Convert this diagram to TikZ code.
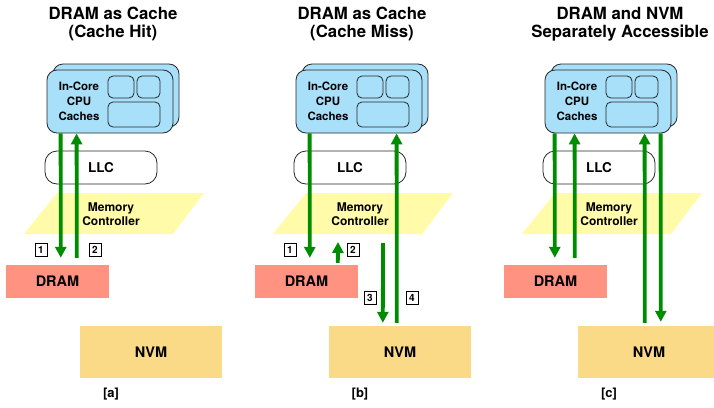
\documentclass[tikz,border=0pt]{standalone}
\usepackage{fontspec}
\setmainfont{TeX Gyre Heros}
\usetikzlibrary{arrows.meta}

\definecolor{cpublue}{RGB}{168,224,250}
\definecolor{mcyellow}{RGB}{255,251,168}
\definecolor{dramred}{RGB}{255,146,128}
\definecolor{nvmyellow}{RGB}{250,218,135}
\definecolor{flowgreen}{RGB}{0,140,0}

\tikzset{
  cpubox/.style={draw=black!85, line width=0.8pt, fill=cpublue, rounded corners=10pt,
    minimum width=126, minimum height=63, inner sep=0},
  cachebox/.style={draw=black!85, line width=0.8pt, fill=cpublue, rounded corners=5pt, inner sep=0},
  cputext/.style={align=center, font=\fontsize{11.5}{15}\selectfont\bfseries},
  llcbox/.style={draw=black!85, line width=0.8pt, fill=white, rounded corners=12pt,
    minimum width=112, minimum height=33, inner sep=0, font=\fontsize{13.5}{15}\selectfont\bfseries},
  mctext/.style={align=center, font=\fontsize{12}{14}\selectfont\bfseries},
  drambox/.style={fill=dramred, minimum width=103, minimum height=33, inner sep=0,
    font=\fontsize{14.5}{16}\selectfont\bfseries},
  nvmbox/.style={fill=nvmyellow, minimum width=142, minimum height=52, inner sep=0,
    font=\fontsize{14.5}{16}\selectfont\bfseries},
  titletext/.style={align=center, font=\fontsize{16.8}{18}\selectfont\bfseries},
  captext/.style={font=\fontsize{13}{15}\selectfont\bfseries},
  numbox/.style={draw, line width=0.9pt, minimum width=12, minimum height=13, inner sep=0,
    font=\fontsize{10}{11}\selectfont\bfseries},
  flow/.style={draw=flowgreen, line width=3.8pt, -{Triangle[length=11pt,width=11pt]}}
}

\begin{document}
\begin{tikzpicture}[x=1pt,y=-1pt]
\useasboundingbox (0,0) rectangle (714,407);

% the three panels share the same blocks
\foreach \p/\dx in {a/0,b/249,c/498}{
\begin{scope}[xshift=\dx]
\node[cpubox] (cpuback-\p) at (116,95.5) {};
\node[cpubox] (cpu-\p) at (110,101.5) {};
\node[cputext] (cput-\p) at (79,101) {In-Core\\CPU\\Caches};
\node[cachebox, minimum width=26, minimum height=22] (ca1-\p) at (121,87) {};
\node[cachebox, minimum width=23, minimum height=22] (ca2-\p) at (148.5,87) {};
\node[cachebox, minimum width=52, minimum height=25] (ca3-\p) at (134,114.5) {};
\node[llcbox] (llc-\p) at (101,167.5) {LLC};
\fill[mcyellow] (24,234) -- (57,193) -- (204,193) -- (173,234) -- cycle;
\node[mctext] (mc-\p) at (111,214) {Memory\\Controller};
\node[drambox] (dram-\p) at (57.5,281.5) {DRAM};
\node[nvmbox] (nvm-\p) at (151,352) {NVM};
\node[captext] (cap-\p) at (111,394) {[\p]};
\end{scope}}

\node[titletext] (title-a) at (113,24) {DRAM as Cache\\(Cache Hit)};
\node[titletext] (title-b) at (362,24) {DRAM as Cache\\(Cache Miss)};
\node[titletext] (title-c) at (620,24) {DRAM and NVM\\Separately Accessible};

% [a] cache hit
\draw[flow, shorten >=7pt] ([xshift=14pt]cpu-a.south west) -- ([xshift=55pt]dram-a.north west);
\draw[flow, shorten <=7pt] ([xshift=71pt]dram-a.north west) -- ([xshift=30pt]cpu-a.south west);
\node[numbox] (n1-a) at (41,250) {1};
\node[numbox] (n2-a) at (95,250) {2};

% [b] cache miss
\coordinate (b2end) at (338,242);
\coordinate (b3start) at (383,243);
\draw[flow, shorten >=7pt] ([xshift=14pt]cpu-b.south west) -- ([xshift=55pt]dram-b.north west);
\draw[flow, shorten <=2pt] ([xshift=83pt]dram-b.north west) -- (b2end);
\draw[flow, shorten >=3pt] (b3start) -- ([xshift=54pt]nvm-b.north west);
\draw[flow, shorten <=3pt] ([xshift=68pt]nvm-b.north west) -- ([xshift=101pt]cpu-b.south west);
\node[numbox] (n1-b) at (290,250) {1};
\node[numbox] (n2-b) at (353,250) {2};
\node[numbox] (n3-b) at (370,298) {3};
\node[numbox] (n4-b) at (412,298) {4};

% [c] separately accessible
\draw[flow, shorten >=7pt] ([xshift=10pt]cpu-c.south west) -- ([xshift=51pt]dram-c.north west);
\draw[flow, shorten <=7pt] ([xshift=71pt]dram-c.north west) -- ([xshift=30pt]cpu-c.south west);
\draw[flow, shorten <=3pt] ([xshift=67pt]nvm-c.north west) -- ([xshift=100pt]cpu-c.south west);
\draw[flow, shorten >=4pt] ([xshift=116pt]cpu-c.south west) -- ([xshift=83pt]nvm-c.north west);
\end{tikzpicture}
\end{document}
